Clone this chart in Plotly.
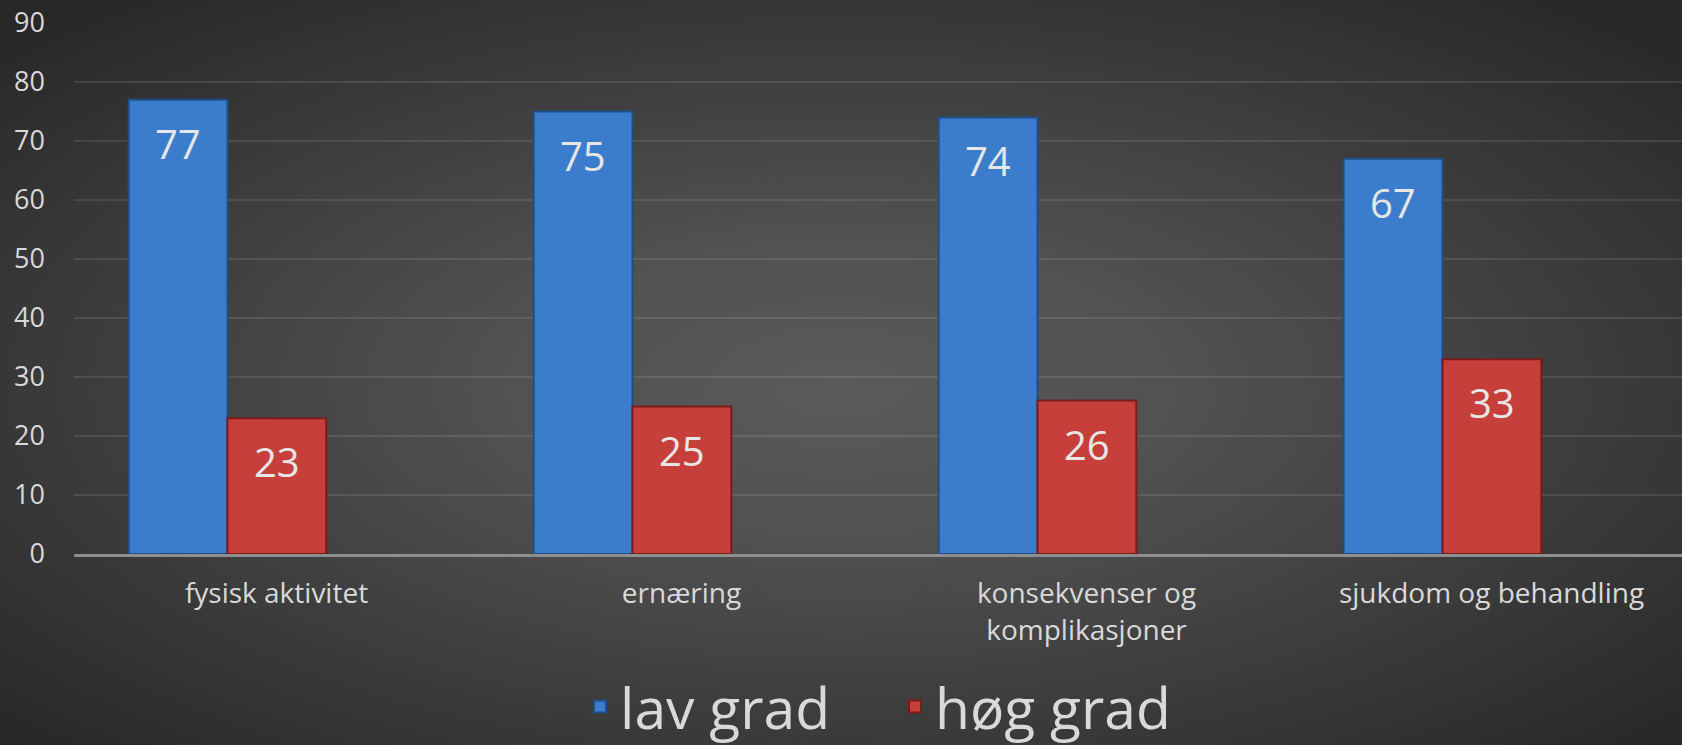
import base64
import plotly.graph_objects as go

categories = ["fysisk aktivitet", "ernæring", "konsekvenser og<br>komplikasjoner", "sjukdom og behandling"]
lav_grad = [77, 75, 74, 67]
hog_grad = [23, 25, 26, 33]
series_names = ["lav grad", "høg grad"]
y_ticks = [0, 10, 20, 30, 40, 50, 60, 70, 80, 90]

W, H = 1682, 745
ML, MR, MT, MB = 74, 0, 23, 191
PW, PH = W - ML - MR, H - MT - MB

BAR_W = 0.244
OFF_BLUE = -0.365
OFF_RED = -0.121

svg = f'''<svg xmlns="http://www.w3.org/2000/svg" width="{W}" height="{H}" viewBox="0 0 {W} {H}" preserveAspectRatio="none">
<defs><radialGradient id="g" cx="50%" cy="52%" r="68%">
<stop offset="0%" stop-color="#5a5a5a"/><stop offset="30%" stop-color="#515151"/><stop offset="100%" stop-color="#282828"/>
</radialGradient></defs><rect width="{W}" height="{H}" fill="url(#g)"/></svg>'''
bg_uri = "data:image/svg+xml;base64," + base64.b64encode(svg.encode()).decode()

xs = list(range(len(categories)))

fig = go.Figure()
fig.add_trace(go.Bar(
    x=xs, y=lav_grad, name=series_names[0], width=BAR_W, offset=OFF_BLUE,
    marker=dict(color="#3b7ccc", line=dict(color="#1f4f8a", width=2)),
))
fig.add_trace(go.Bar(
    x=xs, y=hog_grad, name=series_names[1], width=BAR_W, offset=OFF_RED,
    marker=dict(color="#c63f3a", line=dict(color="#7a1c1a", width=2)),
))

annotations = []
for vals, off in ((lav_grad, OFF_BLUE), (hog_grad, OFF_RED)):
    for i, v in enumerate(vals):
        annotations.append(dict(
            x=i + off + BAR_W / 2, y=v, xref="x", yref="y",
            text=str(v), showarrow=False, yanchor="top", yshift=-14,
            font=dict(family="Open Sans", size=40, color="#e6e6e6"),
        ))

fig.update_layout(
    width=W, height=H,
    margin=dict(l=ML, r=MR, t=MT, b=MB),
    paper_bgcolor="#333333",
    plot_bgcolor="rgba(0,0,0,0)",
    barmode="overlay",
    showlegend=True,
    legend=dict(
        orientation="h", xref="container", yref="container",
        x=895 / W, xanchor="center",
        y=(H - 707) / H, yanchor="middle",
        font=dict(family="Open Sans", size=57, color="#d9d9d9"),
        bgcolor="rgba(0,0,0,0)", itemsizing="constant",
        entrywidth=270,
    ),
    annotations=annotations,
    images=[dict(
        source=bg_uri, xref="paper", yref="paper",
        x=-ML / PW, y=1 + MT / PH, sizex=W / PW, sizey=H / PH,
        xanchor="left", yanchor="top", sizing="stretch", layer="below",
    )],
    xaxis=dict(
        range=[-0.5, -0.5 + PW / 405.0],
        tickvals=xs, ticktext=categories,
        showgrid=False, zeroline=False,
        showline=True, linecolor="#8e8e8e", linewidth=2.5,
        ticks="", ticklabelstandoff=13,
        tickfont=dict(family="Open Sans", size=28, color="#d9d9d9"),
    ),
    yaxis=dict(
        range=[0, 90], tickvals=y_ticks,
        showgrid=True, gridcolor="rgba(255,255,255,0.1)", gridwidth=2,
        zeroline=False, showline=False,
        ticks="", ticklabelstandoff=28,
        tickfont=dict(family="Open Sans", size=27, color="#d9d9d9"),
    ),
)

fig.write_html(
    "out.html",
    config={"displayModeBar": False},
    post_script="document.body.style.margin='0';document.body.style.overflow='hidden';",
)
